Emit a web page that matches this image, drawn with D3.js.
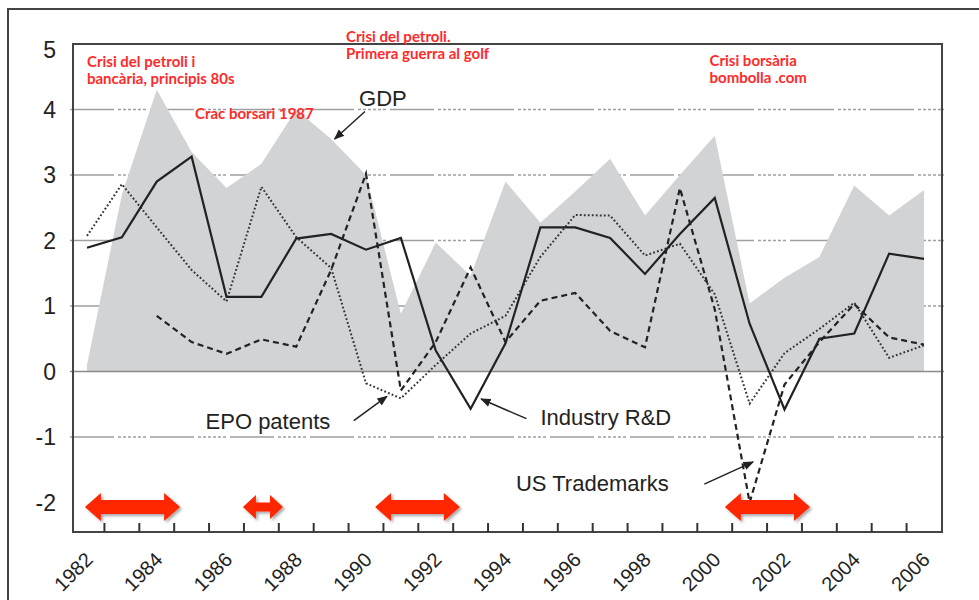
<!DOCTYPE html>
<html>
<head>
<meta charset="utf-8">
<script src="https://cdn.jsdelivr.net/npm/d3@7/dist/d3.min.js"></script>
<style>
  html, body { margin: 0; padding: 0; background: #fff; }
  svg { display: block; }
</style>
</head>
<body>
<svg id="chart" width="979" height="600"></svg>
<script>
// ---- data ----
const years = [1982,1983,1984,1985,1986,1987,1988,1989,1990,1991,1992,1993,1994,
               1995,1996,1997,1998,1999,2000,2001,2002,2003,2004,2005,2006];
const gdp = [0.1,2.7,4.3,3.35,2.8,3.17,4.0,3.55,3.0,0.88,1.97,1.46,2.9,
             2.27,2.75,3.25,2.38,3.0,3.6,1.04,1.43,1.75,2.84,2.38,2.77];
const industryRD = [1.89,2.05,2.9,3.28,1.14,1.14,2.03,2.1,1.86,2.04,0.32,-0.57,0.43,
                    2.2,2.2,2.04,1.49,2.1,2.65,0.73,-0.58,0.5,0.58,1.8,1.72];
const epoPatents = [2.07,2.86,2.2,1.55,1.07,2.82,2.05,1.58,-0.18,-0.41,0.1,0.58,0.85,
                    1.75,2.39,2.38,1.77,1.95,1.18,-0.49,0.28,0.65,1.05,0.21,0.4];
const usTrademarks = [null,null,0.85,0.45,0.27,0.49,0.38,1.55,3.02,-0.29,0.45,1.59,0.45,
                      1.08,1.2,0.62,0.37,2.8,0.95,-2.0,-0.2,0.45,1.03,0.52,0.41];
const yTicks = [5,4,3,2,1,0,-1,-2];
const gridValues = [4,3,2,1,-1];
const xLabelYears = [1982,1984,1986,1988,1990,1992,1994,1996,1998,2000,2002,2004,2006];
const crisisPeriods = [[1981.94,1984.67,"big"],[1986.47,1987.62,"small"],
                       [1990.26,1992.69,"big"],[2000.29,2002.73,"big"]];
const redNotes = [
  {lines:["Crisi del petroli i","bancària, principis 80s"], year:1982, val:4.65},
  {lines:["Crac borsari 1987"], year:1985.1, val:3.85},
  {lines:["Crisi del petroli.","Primera guerra al golf"], year:1989.43, val:5.03},
  {lines:["Crisi borsària","bombolla .com"], year:1999.85, val:4.67}
];
const seriesLabels = [
  {text:"GDP", year:1989.8, val:4.05, from:[1989.97,3.97], to:[1989.1,3.55]},
  {text:"EPO patents", year:1985.4, val:-0.88, from:[1989.65,-0.75], to:[1990.6,-0.38]},
  {text:"Industry R&D", year:1995.0, val:-0.82, from:[1994.6,-0.72], to:[1993.3,-0.42]},
  {text:"US Trademarks", year:1994.3, val:-1.82, from:[1999.7,-1.72], to:[2001.1,-1.38]}
];

// ---- layout ----
const svg = d3.select("#chart");
const plot = {left:73, top:44, right:942, bottom:532};
const x = d3.scaleLinear().domain([1982, 2006]).range([87, 924]);
const y = d3.scaleLinear().domain([-2.45, 5]).range([plot.bottom, plot.top]);

const defs = svg.append("defs");
const sh = defs.append("filter").attr("id","shadow").attr("x","-20%").attr("y","-50%").attr("width","150%").attr("height","200%");
sh.append("feDropShadow").attr("dx",2).attr("dy",2).attr("stdDeviation",1.6).attr("flood-color","#000").attr("flood-opacity",0.35);
defs.append("marker").attr("id","ah").attr("viewBox","0 0 10 10").attr("refX",9).attr("refY",5)
  .attr("markerWidth",7).attr("markerHeight",7).attr("orient","auto-start-reverse")
  .append("path").attr("d","M0,1 L10,5 L0,9 z").attr("fill","#222");

// outer frame
svg.append("rect").attr("x",8).attr("y",9).attr("width",1000).attr("height",1000)
  .attr("fill","none").attr("stroke","#444").attr("stroke-width",2);

// gridlines
svg.append("g").selectAll("line").data(gridValues).join("line")
  .attr("x1",70).attr("x2",944)
  .attr("y1",d=>y(d)).attr("y2",d=>y(d))
  .attr("stroke","#a0a0a0").attr("stroke-width",1.4)
  .attr("stroke-dasharray","44,4,3,2,3,2,3,2,3,2,3,2,3,4");

// GDP area
const area = d3.area().x((d,i)=>x(years[i])).y0(y(0)).y1(d=>y(d));
svg.append("path").datum(gdp).attr("d",area).attr("fill","#d1d3d4");

// zero line
svg.append("line").attr("x1",70).attr("x2",944).attr("y1",y(0)).attr("y2",y(0))
  .attr("stroke","#8a8a8a").attr("stroke-width",1.5);

// series lines
const line = d3.line().defined(d=>d!==null).x((d,i)=>x(years[i])).y(d=>y(d));
svg.append("path").datum(usTrademarks).attr("d",line).attr("fill","none")
  .attr("stroke","#222").attr("stroke-width",2.2).attr("stroke-dasharray","6,4");
svg.append("path").datum(epoPatents).attr("d",line).attr("fill","none")
  .attr("stroke","#333").attr("stroke-width",2).attr("stroke-dasharray","1.8,2.2");
svg.append("path").datum(industryRD).attr("d",line).attr("fill","none")
  .attr("stroke","#222").attr("stroke-width",2.2).attr("stroke-linejoin","miter");

// plot frame
svg.append("rect").attr("x",plot.left).attr("y",plot.top)
  .attr("width",plot.right-plot.left).attr("height",plot.bottom-plot.top)
  .attr("fill","none").attr("stroke","#444").attr("stroke-width",2);

// x ticks at year boundaries (inside)
const tickPos = years.slice(0,-1).map(v=>v+0.5);
svg.append("g").selectAll("line").data(tickPos).join("line")
  .attr("x1",d=>x(d)).attr("x2",d=>x(d)).attr("y1",plot.bottom).attr("y2",plot.bottom-9)
  .attr("stroke","#333").attr("stroke-width",2);

// x labels
svg.append("g").selectAll("text").data(xLabelYears).join("text")
  .attr("transform",d=>`translate(${x(d)+7},${561}) rotate(-45)`)
  .attr("text-anchor","end")
  .attr("font-family","Liberation Sans, Arial, sans-serif").attr("font-size",20)
  .attr("fill","#222").text(d=>d);

// y labels
svg.append("g").selectAll("text").data(yTicks).join("text")
  .attr("x",56).attr("y",d=>Math.max(y(d), 50)).attr("dy","0.36em")
  .attr("text-anchor","end")
  .attr("font-family","Liberation Sans, Arial, sans-serif").attr("font-size",23)
  .attr("fill","#222").text(d=>d);

// crisis double arrows
function dblArrow(x1, x2, cy, big) {
  const hh = big ? 14 : 12, sh = big ? 7 : 4.5, hl = big ? 16 : 13;
  return `M${x1},${cy} L${x1+hl},${cy-hh} L${x1+hl},${cy-sh} L${x2-hl},${cy-sh} L${x2-hl},${cy-hh} L${x2},${cy} ` +
         `L${x2-hl},${cy+hh} L${x2-hl},${cy+sh} L${x1+hl},${cy+sh} L${x1+hl},${cy+hh} Z`;
}
svg.append("g").selectAll("path").data(crisisPeriods).join("path")
  .attr("d",d=>dblArrow(x(d[0]), x(d[1]), y(-2.07), d[2]==="big"))
  .attr("fill","#ff2500").attr("filter","url(#shadow)");

// red notes
const notes = svg.append("g").attr("font-family","Lato, 'Open Sans', sans-serif")
  .attr("font-weight","bold").attr("font-size",15).attr("fill","#ff2a2a");
redNotes.forEach(n=>{
  n.lines.forEach((t,i)=>{
    notes.append("text").attr("x",x(n.year)).attr("y",y(n.val)+i*17).text(t);
  });
});

// series labels with arrows
const lab = svg.append("g");
seriesLabels.forEach(s=>{
  lab.append("text").attr("x",x(s.year)).attr("y",y(s.val))
    .attr("font-family","Liberation Sans, Arial, sans-serif").attr("font-size",22)
    .attr("fill","#222").text(s.text);
  lab.append("line").attr("x1",x(s.from[0])).attr("y1",y(s.from[1]))
    .attr("x2",x(s.to[0])).attr("y2",y(s.to[1]))
    .attr("stroke","#222").attr("stroke-width",1.5).attr("marker-end","url(#ah)");
});
</script>
</body>
</html>
